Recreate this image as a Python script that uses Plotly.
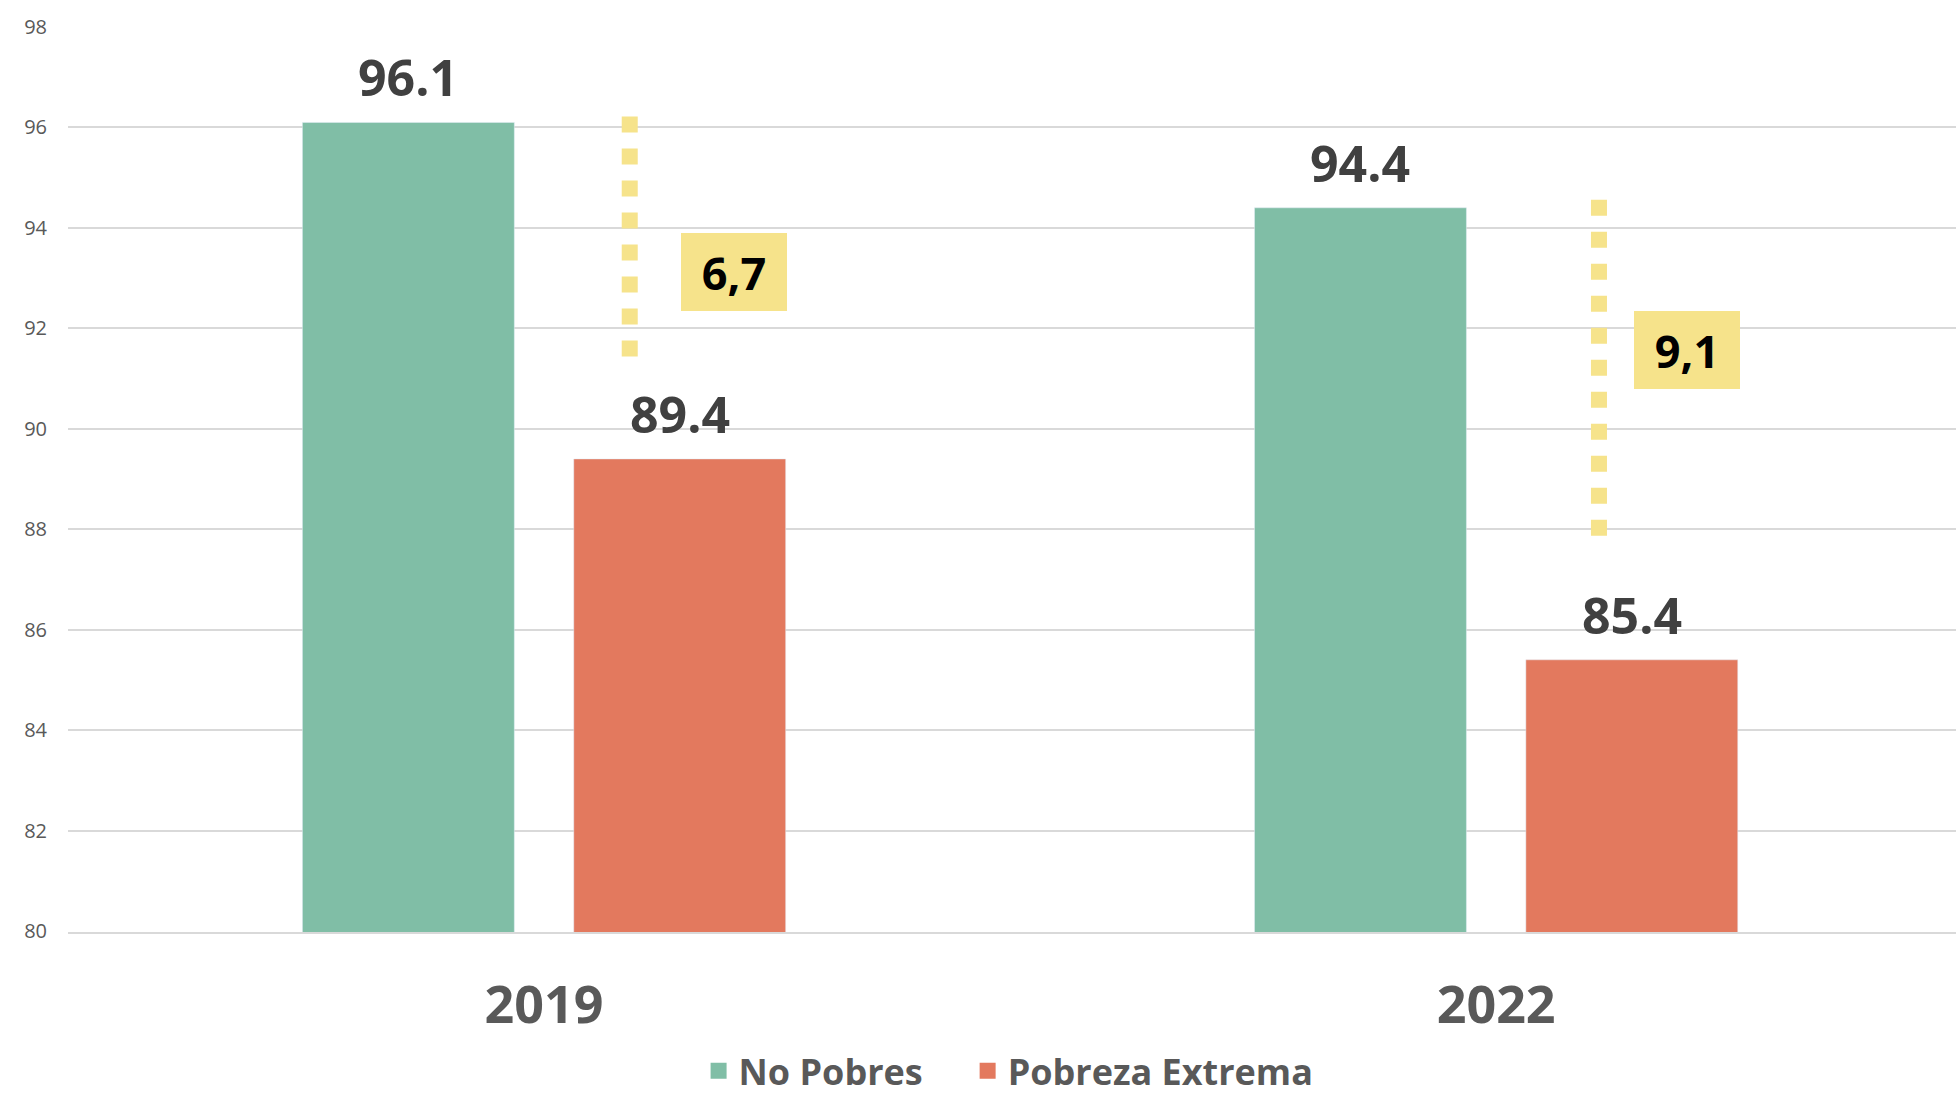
import plotly.graph_objects as go

# ---- data ----
years = ["2019", "2022"]
no_pobres = [96.1, 94.4]
pobreza_extrema = [89.4, 85.4]
gap_labels = ["6,7", "9,1"]
gap_line_top = [96.22, 94.56]
gap_line_bottom = [91.44, 87.87]
gap_box_y = [93.13, 91.57]
y_ticks = [80, 82, 84, 86, 88, 90, 92, 94, 96, 98]

# ---- style / layout constants ----
GREEN = "#80BEA6"
RED = "#E3795E"
YELLOW = "#F6E38B"
LABEL = "#404040"
AXIS_TXT = "#595959"
GRID = "#D9D9D9"
FONT = "Open Sans"
BARGAP = 0.43
BARGROUPGAP = 0.219
line_dx = [0.090, 0.108]   # horizontal offset of the dotted gap line from category centre
box_dx = [0.200, 0.200]    # horizontal offset of the gap box

xpos = list(range(len(years)))
slot = (1 - BARGAP) / 2

fig = go.Figure()
fig.add_trace(go.Bar(x=xpos, y=no_pobres, name="No Pobres", marker_color=GREEN,
                     hoverinfo="skip", showlegend=False))
fig.add_trace(go.Bar(x=xpos, y=pobreza_extrema, name="Pobreza Extrema", marker_color=RED,
                     hoverinfo="skip", showlegend=False))

# legend entries (square swatches), one per legend box
for nm, col, lg in (("No Pobres", GREEN, "legend"), ("Pobreza Extrema", RED, "legend2")):
    fig.add_trace(go.Scatter(x=[None], y=[None], mode="markers", name=nm, legend=lg,
                             marker=dict(symbol="square", size=16, color=col),
                             hoverinfo="skip"))

# dotted gap lines
for i in xpos:
    fig.add_trace(go.Scatter(
        x=[i + line_dx[i], i + line_dx[i]],
        y=[gap_line_top[i], gap_line_bottom[i]],
        mode="lines", line=dict(color=YELLOW, width=16, dash="dot"),
        showlegend=False, hoverinfo="skip"))

annotations = []
for i in xpos:
    for val, off in ((no_pobres[i], -slot / 2), (pobreza_extrema[i], slot / 2)):
        annotations.append(dict(
            x=i + off, y=val, xref="x", yref="y", text=f"{val:.1f}",
            showarrow=False, yanchor="bottom", yshift=9,
            font=dict(family=FONT, size=50, color=LABEL, weight="bold")))
    annotations.append(dict(
        x=i + box_dx[i], y=gap_box_y[i], xref="x", yref="y", text=gap_labels[i],
        showarrow=False, xanchor="center", yanchor="middle",
        bgcolor=YELLOW, bordercolor=YELLOW, borderwidth=1, borderpad=0,
        width=104, height=76,
        font=dict(family=FONT, size=45, color="#000000", weight="bold")))

legend_common = dict(orientation="h", xanchor="left", yanchor="bottom", y=-0.1865,
                     borderwidth=0, itemsizing="trace", bgcolor="rgba(0,0,0,0)",
                     font=dict(family=FONT, size=36, color=AXIS_TXT, weight="bold"),
                     itemclick=False, itemdoubleclick=False)

fig.update_layout(
    width=1956, height=1101,
    margin=dict(l=68, r=0, t=26, b=169, autoexpand=False),
    paper_bgcolor="white", plot_bgcolor="white",
    barmode="group", bargap=BARGAP, bargroupgap=BARGROUPGAP,
    font=dict(family=FONT, color=AXIS_TXT),
    annotations=annotations,
    showlegend=True,
    legend=dict(x=0.334, **legend_common),
    legend2=dict(x=0.4765, **legend_common),
    xaxis=dict(range=[-0.5, 1.483], tickvals=xpos, ticktext=years,
               showgrid=False, zeroline=False, showline=True, linecolor=GRID, linewidth=2,
               ticks="", ticklabelstandoff=27,
               tickfont=dict(family=FONT, size=52, color=AXIS_TXT, weight="bold")),
    yaxis=dict(range=[79.98, 98.02], tickvals=y_ticks, showgrid=True, gridcolor=GRID,
               gridwidth=2, zeroline=False, showline=False, ticks="",
               ticklabelstandoff=20,
               tickfont=dict(family=FONT, size=20, color=AXIS_TXT)),
)

fig.write_html("out.html", config={"displayModeBar": False},
               post_script="document.body.style.margin='0';")
